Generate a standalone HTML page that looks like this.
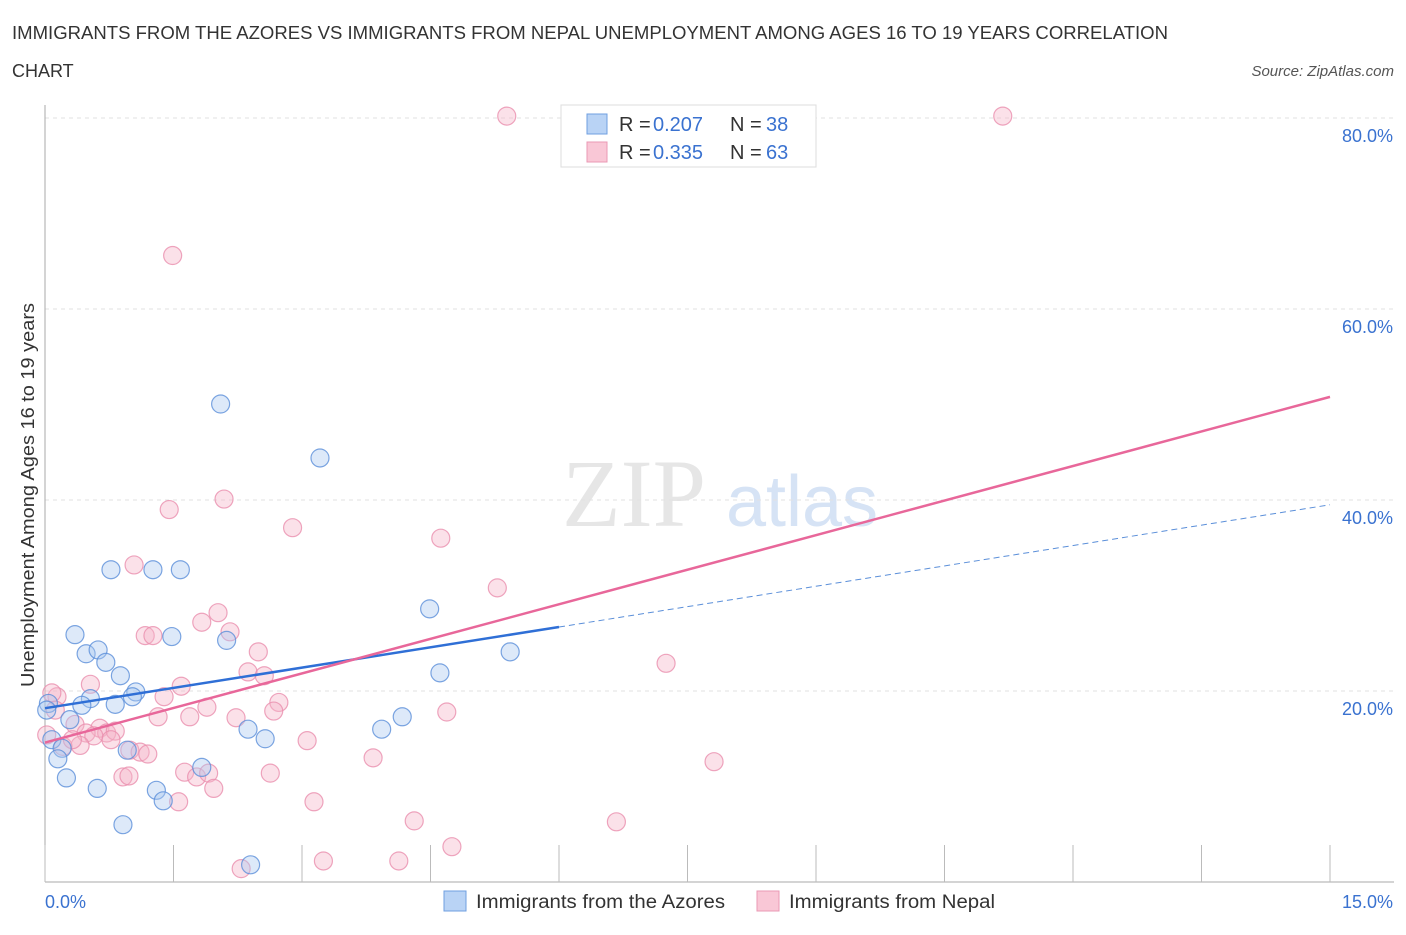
<!DOCTYPE html>
<html><head><meta charset="utf-8"><style>
body{margin:0;background:#fff;font-family:"Liberation Sans",sans-serif;}
</style></head><body>
<svg width="1406" height="930" xmlns="http://www.w3.org/2000/svg" style="font-family:'Liberation Sans',sans-serif">
<text x="12" y="39" font-size="18" fill="#333" textLength="1156" lengthAdjust="spacingAndGlyphs">IMMIGRANTS FROM THE AZORES VS IMMIGRANTS FROM NEPAL UNEMPLOYMENT AMONG AGES 16 TO 19 YEARS CORRELATION</text>
<text x="12" y="77" font-size="18" fill="#333">CHART</text>
<text x="1394" y="76" font-size="15" fill="#555" font-style="italic" text-anchor="end">Source: ZipAtlas.com</text>
<text x="634" y="526" font-size="96" fill="#e6e6e6" font-family="Liberation Serif" text-anchor="middle">ZIP</text>
<text x="802" y="526" font-size="72" fill="#d6e3f5" text-anchor="middle">atlas</text>
<g id="grid"></g>
<g id="axes"></g>
<g id="pts"></g>
<g id="lines"></g>
<g>
<rect x="561" y="105" width="255" height="62" fill="#fff" stroke="#ddd"/>
<rect x="587" y="114" width="20" height="20" fill="#b9d3f5" stroke="#6f9fe0"/>
<text x="619" y="131" font-size="20" fill="#333">R =</text>
<text x="653" y="131" font-size="20" fill="#3a72d0">0.207</text>
<text x="730" y="131" font-size="20" fill="#333">N =</text>
<text x="766" y="131" font-size="20" fill="#3a72d0">38</text>
<rect x="587" y="142" width="20" height="20" fill="#f9c7d6" stroke="#ea98b4"/>
<text x="619" y="159" font-size="20" fill="#333">R =</text>
<text x="653" y="159" font-size="20" fill="#3a72d0">0.335</text>
<text x="730" y="159" font-size="20" fill="#333">N =</text>
<text x="766" y="159" font-size="20" fill="#3a72d0">63</text>
</g>
<g>
<rect x="444" y="891" width="22" height="20" fill="#b9d3f5" stroke="#6f9fe0"/>
<text x="476" y="908" font-size="19" fill="#333" textLength="249" lengthAdjust="spacingAndGlyphs">Immigrants from the Azores</text>
<rect x="757" y="891" width="22" height="20" fill="#f9c7d6" stroke="#ea98b4"/>
<text x="789" y="908" font-size="19" fill="#333" textLength="206" lengthAdjust="spacingAndGlyphs">Immigrants from Nepal</text>
</g>
<text x="45" y="908" font-size="18" fill="#3a72d0">0.0%</text>
<text x="1393" y="908" font-size="18" fill="#3a72d0" text-anchor="end">15.0%</text>
<text transform="translate(34,495) rotate(-90)" font-size="18" fill="#333" text-anchor="middle" textLength="384" lengthAdjust="spacingAndGlyphs">Unemployment Among Ages 16 to 19 years</text>
</svg>
<script>
const blueX=[2.05,3.21,0.77,1.26,1.58,4.49,0.35,1.48,2.12,0.48,0.62,0.71,0.88,5.43,4.61,1.06,1.02,0.53,0.82,0.43,0.04,0.29,2.37,3.93,4.17,2.57,0.08,0.20,0.15,0.96,1.83,0.25,0.61,1.30,1.38,0.91,2.40,0.02];
const blueY=[50.05,44.4,32.7,32.7,32.7,28.6,25.9,25.7,25.3,23.9,24.3,23.0,21.6,24.1,21.9,19.9,19.4,19.2,18.6,18.5,18.7,17.0,16.0,16.0,17.3,15.0,14.9,14.0,12.9,13.8,12.0,10.9,9.8,9.6,8.5,6.0,1.8,18.0];
const pinkX=[5.39,11.18,1.49,2.09,1.45,2.89,4.62,5.28,1.04,2.02,1.83,2.16,1.17,1.26,2.49,7.25,2.37,2.56,0.53,1.59,1.39,2.73,1.89,4.69,2.67,0.14,1.32,1.69,2.23,0.35,0.64,0.72,0.82,0.48,0.57,0.77,3.06,0.41,0.21,0.99,1.11,1.20,3.83,1.63,2.63,1.77,1.91,0.91,0.98,1.97,7.81,1.56,3.14,4.31,6.67,4.75,3.25,4.13,2.29,0.08,0.12,0.02,0.32];
const pinkY=[80.2,80.2,65.6,40.1,39.0,37.1,36.0,30.8,33.2,28.2,27.2,26.2,25.8,25.8,24.1,22.9,22.0,21.6,20.7,20.5,19.4,18.8,18.3,17.8,17.9,19.4,17.3,17.3,17.2,16.5,16.1,15.6,15.8,15.6,15.3,14.9,14.8,14.3,14.2,13.8,13.6,13.4,13.0,11.5,11.4,11.0,11.4,11.0,11.1,9.8,12.6,8.4,8.4,6.4,6.3,3.7,2.2,2.2,1.4,19.8,18.0,15.4,14.9];
const yTicks=[20,40,60,80];
const yTickLabels=["20.0%","40.0%","60.0%","80.0%"];
const xTicks=[0,1.5,3,4.5,6,7.5,9,10.5,12,13.5,15];
const blueTrend=[18.2,26.7]; // y at x=0 and x=6 (solid extent)
const blueSolidEnd=6;
const blueTrendEnd=[15,39.5];
const pinkTrend=[14.6,50.8]; // y at x=0 and x=15
const NS="http://www.w3.org/2000/svg";
const X=v=>45+v/15*1285, Y=v=>882-v/20*191;
function mk(t,a,p){const e=document.createElementNS(NS,t);for(const k in a)e.setAttribute(k,a[k]);p.appendChild(e);return e;}
const grid=document.getElementById('grid'),axes=document.getElementById('axes'),pts=document.getElementById('pts'),lines=document.getElementById('lines');
yTicks.forEach((t,i)=>{
 const l=mk('line',{x1:45,x2:1394,y1:Y(t),y2:Y(t),stroke:'#e2e2e2','stroke-dasharray':'4,4'},grid);
 
 
 const tx=mk('text',{x:1393,y:Y(t)+24,'font-size':18,fill:'#3a72d0','text-anchor':'end'},grid);
 tx.textContent=yTickLabels[i];
 
 
});
const ya=mk('line',{x1:45,x2:45,y1:105,y2:882,stroke:'#aaa'},axes);


const xa=mk('line',{x1:45,x2:1394,y1:882,y2:882,stroke:'#aaa'},axes);


xTicks.forEach(t=>{
 const l=mk('line',{x1:X(t),x2:X(t),y1:845,y2:882,stroke:'#bbb'},axes);
 
 
});
function dots(xs,ys,fill,stroke,name){xs.forEach((x,i)=>{
 const c=mk('circle',{cx:X(x),cy:Y(ys[i]),r:9,fill:fill,'fill-opacity':0.4,stroke:stroke,'stroke-opacity':0.8,'stroke-width':1.2},pts);
 
 
});}
dots(pinkX,pinkY,'#f6b3c8','#ea8fae','nepal-point');
dots(blueX,blueY,'#a9c8f0','#5b8fd9','azores-point');
const b1=mk('line',{x1:X(0),y1:Y(blueTrend[0]),x2:X(blueSolidEnd),y2:Y(blueTrend[1]),stroke:'#2f6fd6','stroke-width':2.5},lines);


const b2=mk('line',{x1:X(blueSolidEnd),y1:Y(blueTrend[1]),x2:X(blueTrendEnd[0]),y2:Y(blueTrendEnd[1]),stroke:'#5b8fd9','stroke-width':1,'stroke-dasharray':'6,4'},lines);


const p1=mk('line',{x1:X(0),y1:Y(pinkTrend[0]),x2:X(15),y2:Y(pinkTrend[1]),stroke:'#e8679a','stroke-width':2.5},lines);


</script>
</body></html>
